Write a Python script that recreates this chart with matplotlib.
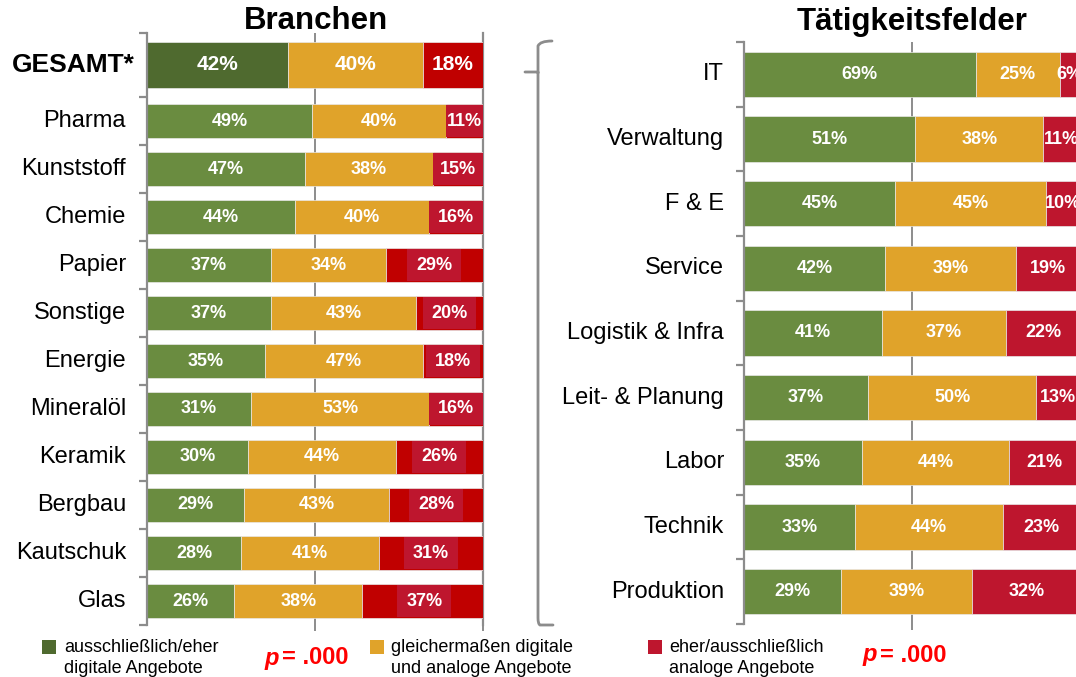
import matplotlib.pyplot as plt
from matplotlib.patches import Rectangle, PathPatch
from matplotlib.path import Path
import numpy as np

plt.rcParams['font.family'] = ['Liberation Sans', 'DejaVu Sans']

# Branchen (left panel)
branchen = ["GESAMT*", "Pharma", "Kunststoff", "Chemie", "Papier", "Sonstige",
            "Energie", "Mineralöl", "Keramik", "Bergbau", "Kautschuk", "Glas"]
br_digital = [42, 49, 47, 44, 37, 37, 35, 31, 30, 29, 28, 26]
br_beides = [40, 40, 38, 40, 34, 43, 47, 53, 44, 43, 41, 38]
br_analog = [18, 11, 15, 16, 29, 20, 18, 16, 26, 28, 31, 37]

# Tätigkeitsfelder (right panel)
felder = ["IT", "Verwaltung", "F & E", "Service", "Logistik & Infra",
          "Leit- & Planung", "Labor", "Technik", "Produktion"]
tf_digital = [69, 51, 45, 42, 41, 37, 35, 33, 29]
tf_beides = [25, 38, 45, 39, 37, 50, 44, 44, 39]
tf_analog = [6, 11, 10, 19, 22, 13, 21, 23, 32]

legend_labels = ["ausschließlich/eher\ndigitale Angebote",
                 "gleichermaßen digitale\nund analoge Angebote",
                 "eher/ausschließlich\nanaloge Angebote"]

GREEN_DARK = "#4F6A2F"
GREEN = "#6A8C40"
ORANGE = "#E0A32A"
RED = "#C00000"
CRIMSON = "#BE162E"
GRAY = "#8C8C8C"

W, H = 1076, 677
fig = plt.figure(figsize=(W / 100, H / 100), dpi=100)


def px_axes(x0, y0, x1, y1):
    return fig.add_axes([x0 / W, 1 - y1 / H, (x1 - x0) / W, (y1 - y0) / H])


def setup(ax, bounds):
    ax.set_xlim(0, 100)
    ax.set_ylim(bounds[-1], 0)
    for s in ["top", "bottom", "right"]:
        ax.spines[s].set_visible(False)
    ax.spines["left"].set_color(GRAY)
    ax.spines["left"].set_linewidth(1.6)
    ax.set_xticks([50, 100])
    ax.set_xticklabels([])
    ax.tick_params(axis="x", length=4, width=1.4, color=GRAY, direction="out")
    ax.set_yticks(bounds)
    ax.set_yticklabels([])
    ax.tick_params(axis="y", length=6, width=1.6, color=GRAY, direction="out")
    ax.axvline(50, color=GRAY, lw=1.4, zorder=0)


# ---- left panel
axl = px_axes(147, 33, 483, 625)
band_l = np.array([4 / 3] + [1] * (len(branchen) - 1))
bnd_l = np.concatenate([[0], np.cumsum(band_l)])
yl = (bnd_l[:-1] + bnd_l[1:]) / 2
setup(axl, bnd_l)
axl.axvline(100, color=GRAY, lw=1.6, zorder=0, clip_on=False)

for i, name in enumerate(branchen):
    first = i == 0
    h = 0.94 if first else 0.69
    g = GREEN_DARK if first else GREEN
    d, b, a = br_digital[i], br_beides[i], br_analog[i]
    axl.barh(yl[i], d, height=h, color=g, edgecolor="#E8E8E8", lw=0.5)
    axl.barh(yl[i], b, left=d, height=h, color=ORANGE, edgecolor="#E8E8E8", lw=0.5)
    axl.barh(yl[i], a, left=d + b, height=h, color=RED, edgecolor="#E8E8E8", lw=0.5)
    fs = 15 if first else 13
    cr = d + b + a / 2
    if not first:
        # darker label box inside the red segment
        bw = min(a, 16)
        axl.add_patch(Rectangle((cr - bw / 2, yl[i] - h / 2 + 0.02), bw, h - 0.04,
                                color=CRIMSON, lw=0, zorder=3))
    for xc, v in [(d / 2, d), (d + b / 2, b), (cr, a)]:
        axl.text(xc, yl[i], f"{v}%", color="white", fontsize=fs, fontweight="bold",
                 ha="center", va="center", zorder=4)
    axl.annotate(name, xy=(0, yl[i]), xycoords=("axes fraction", "data"),
                 xytext=(-12 if first else -21, 0), textcoords="offset pixels",
                 ha="right", va="center", fontsize=19 if first else 17,
                 fontweight="bold" if first else "normal")

fig.text(316 / W, 1 - 21 / H, "Branchen", fontsize=22.5, fontweight="bold",
         ha="center", va="center")

# ---- right panel
axr = px_axes(744, 42, 1080, 624)
bnd_r = np.arange(len(felder) + 1)
yr = bnd_r[:-1] + 0.5
setup(axr, bnd_r)

for i, name in enumerate(felder):
    d, b, a = tf_digital[i], tf_beides[i], tf_analog[i]
    axr.barh(yr[i], d, height=0.7, color=GREEN, edgecolor="#E8E8E8", lw=0.5)
    axr.barh(yr[i], b, left=d, height=0.7, color=ORANGE, edgecolor="#E8E8E8", lw=0.5)
    axr.barh(yr[i], a, left=d + b, height=0.7, color=CRIMSON, edgecolor="#E8E8E8", lw=0.5)
    for xc, v in [(d / 2, d), (d + b / 2, b), (d + b + a / 2, a)]:
        axr.text(xc, yr[i], f"{v}%", color="white", fontsize=13, fontweight="bold",
                 ha="center", va="center", zorder=4)
    axr.annotate(name, xy=(0, yr[i]), xycoords=("axes fraction", "data"),
                 xytext=(-20, 0), textcoords="offset pixels",
                 ha="right", va="center", fontsize=17)

fig.text(912 / W, 1 - 22 / H, "Tätigkeitsfelder", fontsize=22.5, fontweight="bold",
         ha="center", va="center")

# ---- brace between panels
tip = 72
pts = [(552, 41), (540, 41), (538, 46), (538, 66), (538, tip), (525, tip),
       (538, tip), (538, 618), (538, 624), (540, 625), (553, 625)]
codes = [Path.MOVETO, Path.CURVE3, Path.CURVE3, Path.LINETO, Path.LINETO, Path.LINETO,
         Path.MOVETO, Path.LINETO, Path.CURVE3, Path.CURVE3, Path.LINETO]
verts = [(x / W, 1 - y / H) for x, y in pts]
fig.patches.append(PathPatch(Path(verts, codes), transform=fig.transFigure,
                             fill=False, edgecolor=GRAY, lw=2.0, capstyle="round"))

# ---- legend
for (sx, tx), col, lab in zip([(42, 64), (370, 391), (648, 669)],
                              [GREEN_DARK, ORANGE, CRIMSON], legend_labels):
    fig.patches.append(Rectangle((sx / W, 1 - 654 / H), 14 / W, 14 / H,
                                 transform=fig.transFigure, color=col, lw=0))
    fig.text(tx / W, 1 - 658 / H, lab, fontsize=13, ha="left", va="center",
             linespacing=1.3)

for px, py in [(265, 658), (863, 655)]:
    fig.text(px / W, 1 - py / H, "p", color="#FF0000", fontsize=17,
             fontweight="bold", fontstyle="italic", ha="left", va="center")
    fig.text((px + 17) / W, 1 - py / H, "= .000", color="#FF0000", fontsize=17,
             fontweight="bold", ha="left", va="center")

fig.savefig("out.png", dpi=100)
